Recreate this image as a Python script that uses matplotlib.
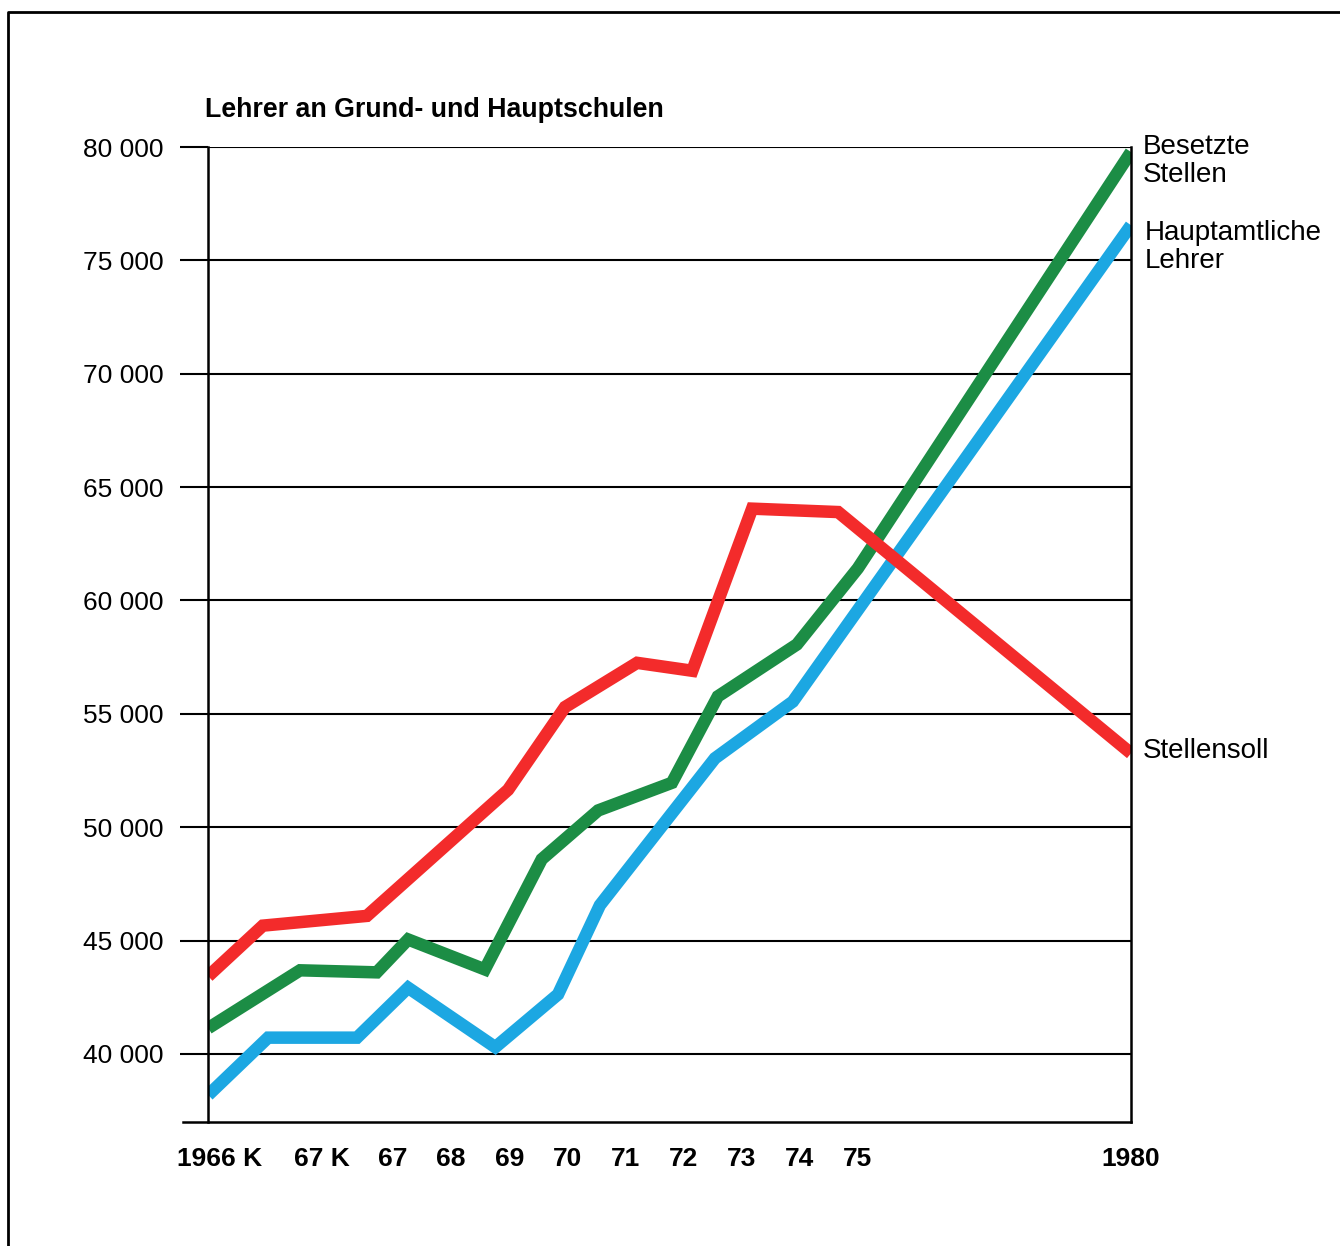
import numpy as np
import matplotlib.pyplot as plt
from matplotlib.lines import Line2D

plt.rcParams['font.family'] = ['Liberation Sans', 'DejaVu Sans']

# time positions (the axis is not uniform: two short school years "K" at the start)
tick_labels = ['1966 K', '67 K', '67', '68', '69', '70', '71', '72', '73', '74', '75', '1980']
tick_pos = [1964.02, 1965.78, 1967, 1968, 1969, 1970, 1971, 1972, 1973, 1974, 1975, 1979.70]

# Stellensoll (red)
x_soll = [1963.82, 1964.76, 1966.55, 1968.98, 1969.96, 1971.20, 1972.15, 1973.18, 1974.66, 1979.70]
y_soll = [43430, 45660, 46090, 51650, 55300, 57250, 56900, 64050, 63900, 53260]

# Besetzte Stellen (green)
x_besetzt = [1963.82, 1965.40, 1966.72, 1967.26, 1968.58, 1969.56, 1970.53, 1971.80, 1972.59,
             1973.95, 1975.00, 1979.70]
y_besetzt = [41140, 43690, 43600, 45050, 43730, 48590, 50740, 51960, 55770, 58060, 61420, 79780]

# Hauptamtliche Lehrer (blue)
x_haupt = [1963.82, 1964.85, 1966.38, 1967.26, 1968.76, 1969.84, 1970.56, 1972.54, 1973.88, 1979.70]
y_haupt = [38190, 40720, 40720, 42920, 40300, 42630, 46560, 53040, 55540, 76550]

y_ticks = [40000, 45000, 50000, 55000, 60000, 65000, 70000, 75000, 80000]

red = '#f32b2b'
green = '#1c8d45'
blue = '#1ca7e2'

fig = plt.figure(figsize=(13.4, 12.46), dpi=100)
ax = fig.add_axes([208 / 1340, 1 - 1122 / 1246, 923 / 1340, 975 / 1246])

ax.set_xlim(1963.816, 1979.70)
ax.set_ylim(37000, 80000)

ax.set_yticks(y_ticks)
ax.set_yticklabels([f'{v:,}'.replace(',', ' ') for v in y_ticks])
ax.yaxis.grid(True, color='black', linewidth=1.5)
ax.set_axisbelow(True)
ax.tick_params(axis='y', length=20, width=1.5, direction='out', pad=12,
               labelsize=19, color='black')

ax.set_xticks(tick_pos)
ax.set_xticklabels(tick_labels, fontweight='bold')
ax.tick_params(axis='x', length=0, pad=18, labelsize=19)

for side in ['top', 'bottom']:
    ax.spines[side].set_visible(False)
for side in ['left', 'right']:
    ax.spines[side].set_linewidth(1.8)

# bottom base line, reaching a bit left of the axis
ax.plot([-0.027, 1], [0, 0], transform=ax.transAxes, color='black',
        linewidth=1.8, clip_on=False)

lw = 9
ax.plot(x_besetzt, y_besetzt, color=green, linewidth=lw, solid_capstyle='butt',
        solid_joinstyle='miter')
ax.plot(x_haupt, y_haupt, color=blue, linewidth=lw, solid_capstyle='butt',
        solid_joinstyle='miter')
ax.plot(x_soll, y_soll, color=red, linewidth=lw, solid_capstyle='butt',
        solid_joinstyle='miter')

# line labels on the right
ax.text(1.013, 79400, 'Besetzte\nStellen', transform=ax.get_yaxis_transform(),
        fontsize=20, va='center', ha='left', linespacing=1.1)
ax.text(1.015, 75600, 'Hauptamtliche\nLehrer', transform=ax.get_yaxis_transform(),
        fontsize=20, va='center', ha='left', linespacing=1.1)
ax.text(1.013, 53350, 'Stellensoll', transform=ax.get_yaxis_transform(),
        fontsize=20, va='center', ha='left')

ax.text(-0.003, 1.038, 'Lehrer an Grund- und Hauptschulen', transform=ax.transAxes,
        fontsize=19.3, fontweight='bold', va='center', ha='left')

# page frame
fig.add_artist(Line2D([8 / 1340, 8 / 1340, 1.0], [0.0, 1 - 12 / 1246, 1 - 12 / 1246],
                      transform=fig.transFigure, color='black', linewidth=2))

fig.savefig('out.png', dpi=100, facecolor='white')
